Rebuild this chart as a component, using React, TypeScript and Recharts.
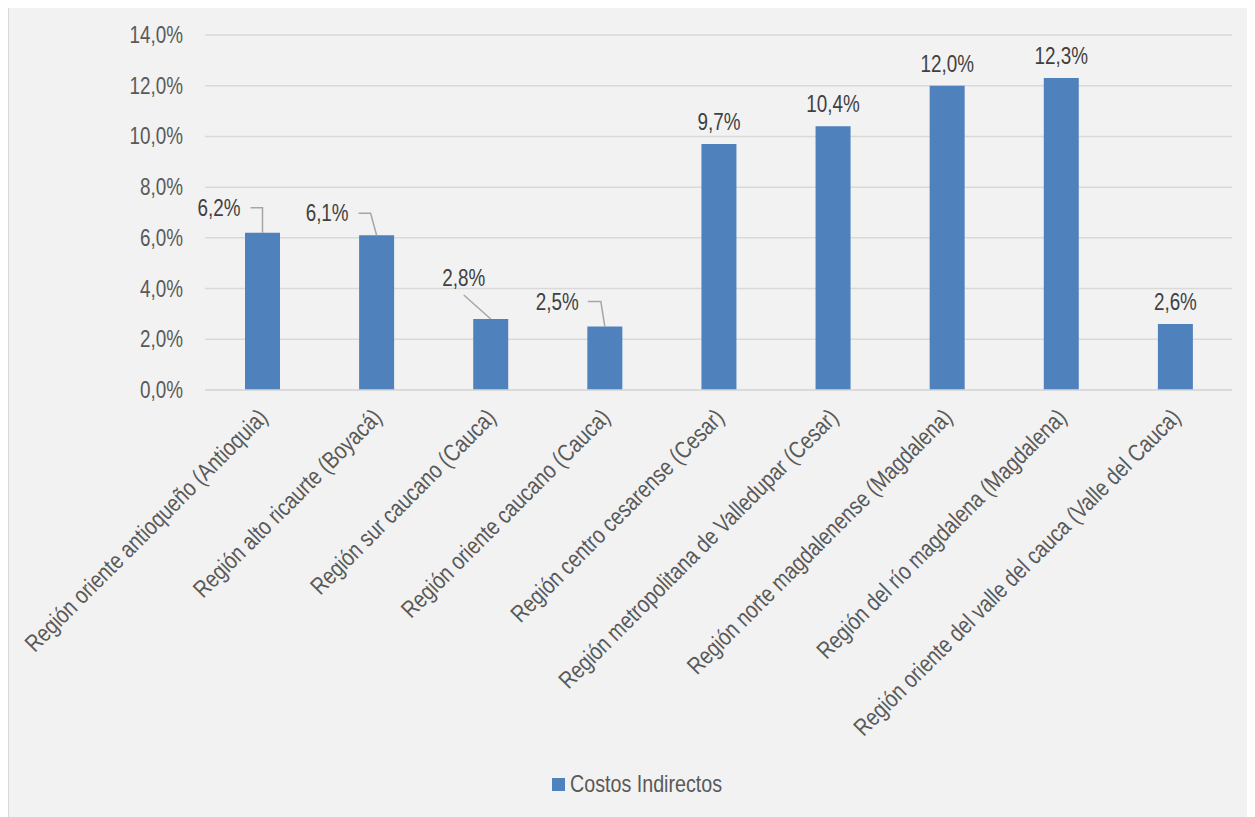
import { BarChart, Bar, XAxis, YAxis, CartesianGrid, Legend, LabelList } from "recharts";

const regions = [
  "Región oriente antioqueño (Antioquia)",
  "Región alto ricaurte (Boyacá)",
  "Región sur caucano (Cauca)",
  "Región oriente caucano (Cauca)",
  "Región centro cesarense (Cesar)",
  "Región metropolitana de Valledupar (Cesar)",
  "Región norte magdalenense (Magdalena)",
  "Región del río magdalena (Magdalena)",
  "Región oriente del valle del cauca (Valle del Cauca)",
];
const costosIndirectos = [6.2, 6.1, 2.8, 2.5, 9.7, 10.4, 12.0, 12.3, 2.6];
const yTicks = [0, 2, 4, 6, 8, 10, 12, 14];

const data = regions.map((region, i) => ({ region, costos: costosIndirectos[i] }));

// Arial Narrow look: Liberation Sans squeezed horizontally
const FONT = "'Liberation Sans', Arial, sans-serif";
const SQUEEZE = 0.82;
const BLUE = "#4f81bd";
const fmt = (v: number) => v.toFixed(1).replace(".", ",") + "%";

function NarrowText({ x, y, anchor = "middle", angle = 0, fill = "#404040", size = 23, children }: any) {
  return (
    <g transform={`translate(${x},${y}) rotate(${angle}) scale(${SQUEEZE},1)`}>
      <text x={0} y={0} dy="0.35em" textAnchor={anchor} fontFamily={FONT} fontSize={size} fill={fill}>
        {children}
      </text>
    </g>
  );
}

function DataLabel(props: any) {
  const { x, y, width, value, index } = props;
  const cx = x + width / 2;
  const top = y;
  const line = { stroke: "#a6a6a6", strokeWidth: 1.5, fill: "none" };
  if (index === 0) {
    return (
      <g>
        <NarrowText x={cx - 22} y={top - 25} anchor="end">{fmt(value)}</NarrowText>
        <polyline points={`${cx - 12},${top - 25} ${cx},${top - 25} ${cx},${top}`} {...line} />
      </g>
    );
  }
  if (index === 1) {
    return (
      <g>
        <NarrowText x={cx - 28} y={top - 22} anchor="end">{fmt(value)}</NarrowText>
        <polyline points={`${cx - 18},${top - 22} ${cx - 6},${top - 22} ${cx},${top}`} {...line} />
      </g>
    );
  }
  if (index === 2) {
    return (
      <g>
        <NarrowText x={cx - 27} y={top - 41}>{fmt(value)}</NarrowText>
        <polyline points={`${cx - 27},${top - 24} ${cx},${top}`} {...line} />
      </g>
    );
  }
  if (index === 3) {
    return (
      <g>
        <NarrowText x={cx - 26} y={top - 25} anchor="end">{fmt(value)}</NarrowText>
        <polyline points={`${cx - 17},${top - 25} ${cx - 4},${top - 25} ${cx},${top}`} {...line} />
      </g>
    );
  }
  return <NarrowText x={cx} y={top - 22}>{fmt(value)}</NarrowText>;
}

function CategoryTick(props: any) {
  const { x, y, payload } = props;
  return (
    <NarrowText x={x + 1} y={y + 15} anchor="end" angle={-45} fill="#595959" size={24}>
      {payload.value}
    </NarrowText>
  );
}

function ValueTick(props: any) {
  const { x, y, payload } = props;
  return (
    <NarrowText x={x} y={y} anchor="end" fill="#595959">
      {fmt(payload.value)}
    </NarrowText>
  );
}

function LegendContent() {
  return (
    <div style={{ display: "flex", justifyContent: "center", alignItems: "center", height: 40, paddingLeft: 32 }}>
      <span style={{ width: 13, height: 13, background: BLUE, marginRight: 5 }} />
      <span
        style={{
          fontFamily: FONT,
          fontSize: 24,
          color: "#595959",
          display: "inline-block",
          width: 152,
          whiteSpace: "nowrap",
          transform: `scaleX(${SQUEEZE})`,
          transformOrigin: "left center",
        }}
      >
        Costos Indirectos
      </span>
    </div>
  );
}

export default function App() {
  return (
    <div
      style={{
        width: 1244,
        height: 814,
        marginTop: -2,
        border: "1px solid #d9d9d9",
        background: "#f2f2f2",
      }}
    >
      <BarChart
        width={1240}
        height={812}
        data={data}
        margin={{ top: 28, right: 17, left: 0, bottom: 15 }}
        barSize={35}
      >
        <CartesianGrid vertical={false} stroke="#d9d9d9" strokeWidth={1.5} />
        <XAxis
          dataKey="region"
          axisLine={{ stroke: "#d9d9d9", strokeWidth: 1.5 }}
          tickLine={false}
          interval={0}
          height={374}
          tick={<CategoryTick />}
        />
        <YAxis
          width={196}
          domain={[0, 14]}
          ticks={yTicks}
          axisLine={false}
          tickLine={false}
          tickSize={0}
          tickMargin={22}
          tick={<ValueTick />}
        />
        <Legend verticalAlign="bottom" height={40} content={<LegendContent />} />
        <Bar dataKey="costos" fill={BLUE} isAnimationActive={false}>
          <LabelList dataKey="costos" content={<DataLabel />} />
        </Bar>
      </BarChart>
    </div>
  );
}
